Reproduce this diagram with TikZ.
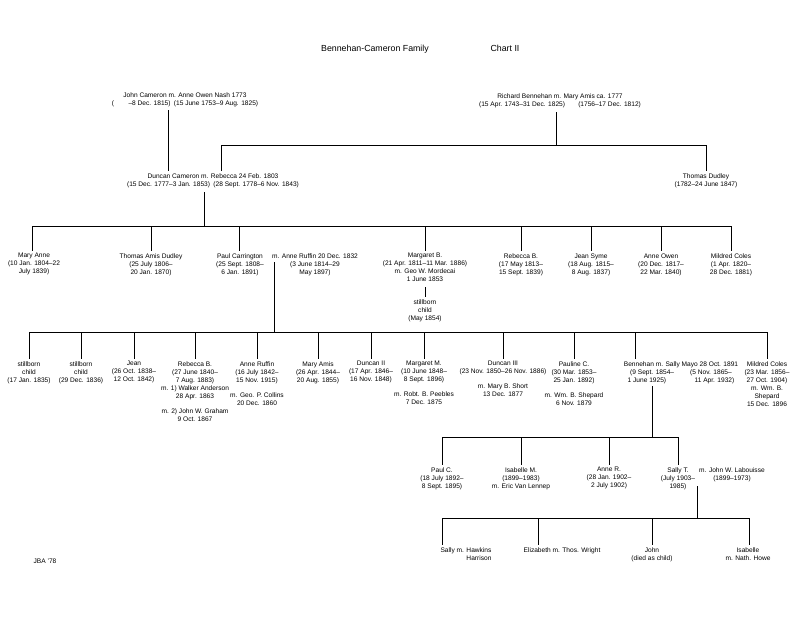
\documentclass[tikz,border=0pt]{standalone}
\usepackage{fontspec}
\setmainfont{Liberation Sans}
\begin{document}
\begin{tikzpicture}[x=1pt,y=-1pt,line width=0.9pt,
  p/.style={anchor=north,align=center,inner sep=0pt,font=\fontsize{6.6}{8}\selectfont},
  ttl/.style={anchor=base,inner sep=0pt,font=\fontsize{8.8}{10}\selectfont}]
\useasboundingbox[fill=white] (0,0) rectangle (800,618);
\node[ttl] (title) at (375,52) {Bennehan-Cameron Family};
\node[ttl] (chart) at (505,52) {Chart II};
% generation 1
\node[p] (jc) at (185,92) {John Cameron m. Anne Owen Nash 1773\\(\hspace{2.2em}–8 Dec. 1815)\enspace(15 June 1753–9 Aug. 1825)};
\node[p] (rb) at (560,93) {Richard Bennehan m. Mary Amis ca. 1777\\(15 Apr. 1743–31 Dec. 1825)\qquad(1756–17 Dec. 1812)};
% generation 2
\node[p] (dc) at (213,173) {Duncan Cameron m. Rebecca 24 Feb. 1803\\(15 Dec. 1777–3 Jan. 1853)\enspace(28 Sept. 1778–6 Nov. 1843)};
\node[p] (td) at (706,173) {Thomas Dudley\\(1782–24 June 1847)};
\coordinate (jcb) at (168,110); \coordinate (dct) at (168,171);
\draw (jcb) -- (dct);
\coordinate (rbb) at (556,112); \coordinate (rbh) at (556,145);
\coordinate (rbl) at (221,145); \coordinate (rbr) at (706,145);
\coordinate (rebt) at (221,171); \coordinate (tdt) at (706,171);
\draw (rbb) -- (rbh); \draw (rebt) -- (rbl) -- (rbr) -- (tdt);
% generation 3
\coordinate (dcb) at (204,192); \coordinate (dch) at (204,226);
\draw (dcb) -- (dch);
\draw (32,226) coordinate (g3l) -- (732,226) coordinate (g3r);
\node[p] (ma) at (34,253) {Mary Anne\\(10 Jan. 1804–22\\July 1839)};
\node[p] (tad) at (151,253) {Thomas Amis Dudley\\(25 July 1806–\\20 Jan. 1870)};
\node[p] (pc) at (240,253) {Paul Carrington\\(25 Sept. 1808–\\6 Jan. 1891)};
\node[p] (ar) at (315,253) {m. Anne Ruffin 20 Dec. 1832\\(3 June 1814–29\\May 1897)};
\node[p] (mb) at (425,253) {Margaret B.\\(21 Apr. 1811–11 Mar. 1886)\\m. Geo W. Mordecai\\1 June 1853};
\node[p] (sb) at (425,299) {stillborn\\child\\(May 1854)};
\node[p] (rbe) at (521,253) {Rebecca B.\\(17 May 1813–\\15 Sept. 1839)};
\node[p] (js) at (591,253) {Jean Syme\\(18 Aug. 1815–\\8 Aug. 1837)};
\node[p] (ao) at (661,253) {Anne Owen\\(20 Dec. 1817–\\22 Mar. 1840)};
\node[p] (mc) at (731,253) {Mildred Coles\\(1 Apr. 1820–\\28 Dec. 1881)};
\foreach \n/\x in {ma/32,tad/151,pc/239,mb/425,rbe/521,js/591,ao/661,mc/731}
  \draw (\x,226) -- (\x,251);
\draw (425,287) -- (425,297);
% generation 4
\coordinate (pcb) at (274,262); \coordinate (pch) at (274,332);
\draw (pcb) -- (pch);
\draw (29,332) coordinate (g4l) -- (767,332) coordinate (g4r);
\node[p] (s1) at (29,361) {stillborn\\child\\(17 Jan. 1835)};
\node[p] (s2) at (81,361) {stillborn\\child\\(29 Dec. 1836)};
\node[p] (je) at (134,361) {Jean\\(26 Oct. 1838–\\12 Oct. 1842)};
\node[p] (rb2) at (195,361) {Rebecca B.\\(27 June 1840–\\7 Aug. 1883)\\m. 1) Walker Anderson\\28 Apr. 1863\\[7pt]m. 2) John W. Graham\\9 Oct. 1867};
\node[p] (ar2) at (257,361) {Anne Ruffin\\(16 July 1842–\\15 Nov. 1915)\\[7pt]m. Geo. P. Collins\\20 Dec. 1860};
\node[p] (mam) at (318,361) {Mary Amis\\(26 Apr. 1844–\\20 Aug. 1855)};
\node[p] (d2) at (371,361) {Duncan II\\(17 Apr. 1846–\\16 Nov. 1848)};
\node[p] (mm) at (424,361) {Margaret M.\\(10 June 1848–\\8 Sept. 1896)\\[7pt]m. Robt. B. Peebles\\7 Dec. 1875};
\node[p] (d3) at (503,361) {Duncan III\\(23 Nov. 1850–26 Nov. 1886)\\[7pt]m. Mary B. Short\\13 Dec. 1877};
\node[p] (pa) at (574,361) {Pauline C.\\(30 Mar. 1853–\\25 Jan. 1892)\\[7pt]m. Wm. B. Shepard\\6 Nov. 1879};
\node[p] (be) at (681,361) {Bennehan m. Sally Mayo 28 Oct. 1891\\(9 Sept. 1854–\qquad\ \,(5 Nov. 1865–\hspace{0.6em}\\1 June 1925)\hspace{4.3em}11 Apr. 1932)};
\node[p] (mc2) at (767,361) {Mildred Coles\\(23 Mar. 1856–\\27 Oct. 1904)\\m. Wm. B.\\Shepard\\15 Dec. 1896};
\foreach \x in {29,81,134,195,257,318,371,424,503,574,635,767}
  \draw (\x,332) -- (\x,359);
% generation 5
\coordinate (beb) at (652,386); \coordinate (beh) at (652,437);
\draw (beb) -- (beh);
\draw (442,437) coordinate (g5l) -- (678,437) coordinate (g5r);
\node[p] (pcc) at (442,467) {Paul C.\\(18 July 1892–\\8 Sept. 1895)};
\node[p] (im) at (521,467) {Isabelle M.\\(1899–1983)\\m. Eric Van Lennep};
\node[p] (anr) at (609,467) {Anne R.\\(28 Jan. 1902–\\2 July 1902)};
\node[p] (st) at (678,467) {Sally T.\\(July 1903–\\1985)};
\node[p] (jwl) at (732,467) {m. John W. Labouisse\\(1899–1973)};
\foreach \x in {442,521,609,678}
  \draw (\x,437) -- (\x,465);
% generation 6
\coordinate (stb) at (697,486); \coordinate (sth) at (697,518);
\draw (stb) -- (sth);
\draw (442,518) coordinate (g6l) -- (749,518) coordinate (g6r);
\node[p] (sa) at (466,547) {Sally m. Hawkins\\\hfill Harrison};
\node[p] (el) at (562,547) {Elizabeth m. Thos. Wright};
\node[p] (jo) at (652,547) {John\\(died as child)};
\node[p] (is) at (748,547) {Isabelle\\m. Nath. Howe};
\foreach \x in {442,538,652,749}
  \draw (\x,518) -- (\x,545);
\node[p] (jba) at (45,558) {JBA '78};
\end{tikzpicture}
\end{document}
